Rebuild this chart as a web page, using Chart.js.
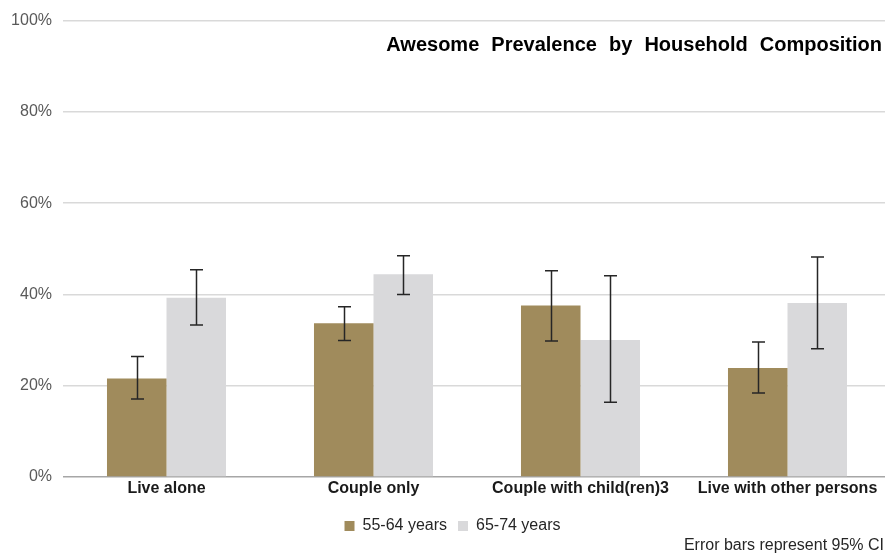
<!DOCTYPE html>
<html>
<head>
<meta charset="utf-8">
<script src="https://cdn.jsdelivr.net/npm/chart.js@4/dist/chart.umd.min.js"></script>
<style>
  html, body { margin: 0; padding: 0; background: #fff; }
  #wrap { width: 885px; height: 555px; }
</style>
</head>
<body>
<div id="wrap"><canvas id="myChart" width="885" height="555"></canvas></div>
<script>
const categories = ['Live alone', 'Couple only', 'Couple with child(ren)3', 'Live with other persons'];
const yTicks = [0, 20, 40, 60, 80, 100];

const age5564 = [21.6, 33.7, 37.6, 23.9];
const age5564Low = [17.1, 29.9, 29.8, 18.4];
const age5564High = [26.4, 37.3, 45.2, 29.6];

const age6574 = [39.3, 44.4, 30.0, 38.1];
const age6574Low = [33.3, 40.0, 16.4, 28.1];
const age6574High = [45.4, 48.5, 44.1, 48.2];

const FONT = "'Liberation Sans', Arial, sans-serif";

// let the plot run a little past the right edge of the canvas
const widenPlot = {
  id: 'widenPlot',
  afterLayout(chart) {
    const x = chart.scales.x;
    x.right = 891;
    x.width = x.right - x.left;
    x.configure();
    chart.chartArea.right = 891;
    chart.chartArea.width = chart.chartArea.right - chart.chartArea.left;
  },
  beforeDraw(chart) {
    // nudge the legend a bit to the right
    chart.legend.left = 20;
  }
};

// whiskers for the 95% CI, drawn on top of the bars
const errorBars = {
  id: 'errorBars',
  afterDatasetsDraw(chart) {
    const ctx = chart.ctx;
    const y = chart.scales.y;
    const ranges = [[age5564Low, age5564High], [age6574Low, age6574High]];
    ctx.save();
    ctx.strokeStyle = '#262626';
    ctx.lineWidth = 1.5;
    ranges.forEach(function (r, di) {
      chart.getDatasetMeta(di).data.forEach(function (bar, i) {
        const x = Math.round(bar.x) + 0.5;
        const yLo = y.getPixelForValue(r[0][i]);
        const yHi = y.getPixelForValue(r[1][i]);
        ctx.beginPath();
        ctx.moveTo(x, yLo); ctx.lineTo(x, yHi);
        ctx.moveTo(x - 6.5, yLo); ctx.lineTo(x + 6.5, yLo);
        ctx.moveTo(x - 6.5, yHi); ctx.lineTo(x + 6.5, yHi);
        ctx.stroke();
      });
    });
    ctx.restore();
  }
};

// title in the top right and the note under the legend
const texts = {
  id: 'texts',
  afterDraw(chart) {
    const ctx = chart.ctx;
    ctx.save();
    ctx.fillStyle = '#000';
    ctx.font = 'bold 20px ' + FONT;
    ctx.textAlign = 'right';
    ctx.textBaseline = 'middle';
    if ('wordSpacing' in ctx) ctx.wordSpacing = '6.5px';
    ctx.fillText('Awesome Prevalence by Household Composition', 882, 45);
    if ('wordSpacing' in ctx) ctx.wordSpacing = '0px';
    ctx.fillStyle = '#262626';
    ctx.font = '16px ' + FONT;
    ctx.fillText('Error bars represent 95% CI', 884, 546);
    ctx.restore();
  }
};

let myChart = new Chart(document.getElementById('myChart'), {
  type: 'bar',
  data: {
    labels: categories,
    datasets: [
      {
        label: '55-64 years',
        data: age5564,
        backgroundColor: '#a08b5c'
      },
      {
        label: '65-74 years',
        data: age6574,
        backgroundColor: '#d9d9db'
      }
    ]
  },
  options: {
    responsive: false,
    animation: false,
    devicePixelRatio: 1,
    layout: { padding: { top: 12, right: 0, bottom: 11, left: 0 } },
    datasets: {
      bar: { barPercentage: 1.0, categoryPercentage: 0.575 }
    },
    scales: {
      x: {
        afterFit(axis) { axis.height = 30; },
        grid: { display: false },
        border: { display: false },
        ticks: {
          color: '#1a1a1a',
          padding: -6,
          font: { family: FONT, size: 16, weight: 'bold' },
          maxRotation: 0,
          autoSkip: false
        }
      },
      y: {
        min: 0,
        max: 100,
        afterBuildTicks(axis) {
          axis.ticks = yTicks.map(v => ({ value: v }));
        },
        afterFit(axis) { axis.width = 63; },
        border: { display: false },
        grid: {
          drawTicks: false,
          lineWidth: 1.5,
          color: ctx => ctx.tick && ctx.tick.value === 0 ? '#a6a6a6' : '#d9d9d9'
        },
        ticks: {
          color: '#595959',
          padding: 11,
          font: { family: FONT, size: 16 },
          callback: v => v + '%'
        }
      }
    },
    plugins: {
      legend: {
        position: 'bottom',
        labels: {
          boxWidth: 10,
          boxHeight: 10,
          padding: 11,
          color: '#262626',
          font: { family: FONT, size: 16 }
        }
      },
      tooltip: { enabled: false }
    }
  },
  plugins: [widenPlot, errorBars, texts]
});
</script>
</body>
</html>
